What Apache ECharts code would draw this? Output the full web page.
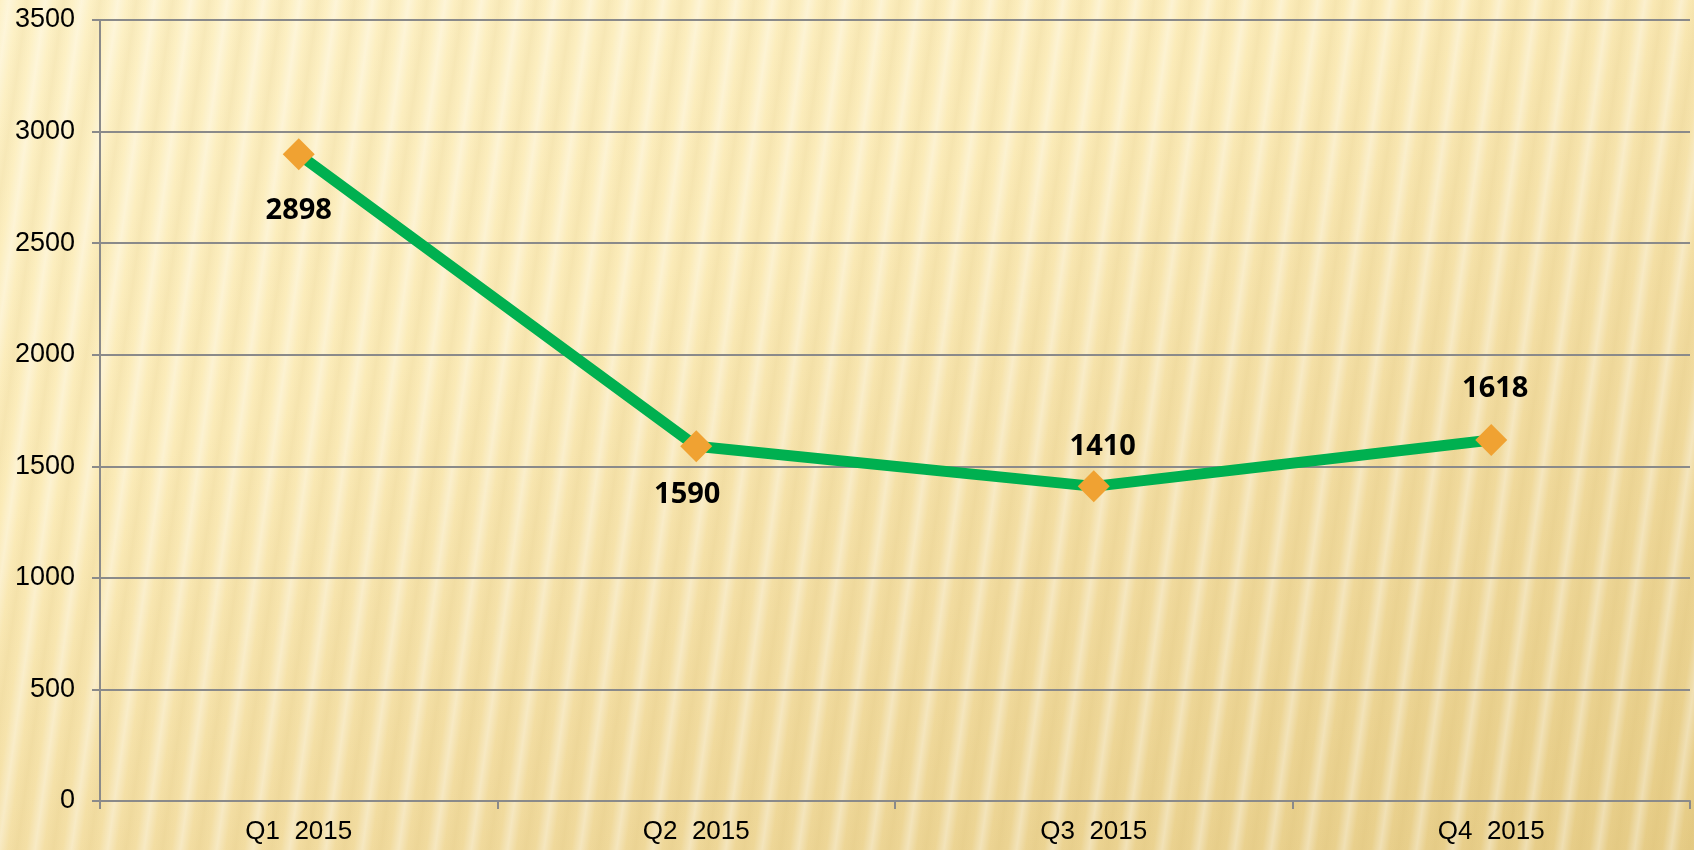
<!DOCTYPE html>
<html>
<head>
<meta charset="utf-8">
<title>Quarterly chart</title>
<script src="https://cdn.jsdelivr.net/npm/echarts@6/dist/echarts.min.js"></script>
<style>
  html, body {
    margin: 0;
    padding: 0;
  }
  body {
    width: 1694px;
    height: 850px;
    overflow: hidden;
    /* light gold backdrop with faint slanted stripes */
    background:
      repeating-linear-gradient(98deg, rgba(255,255,255,0) 0px, rgba(255,255,255,0.35) 9px, rgba(255,255,255,0) 18px, rgba(200,170,90,0.10) 27px, rgba(255,255,255,0) 36px),
      linear-gradient(160deg, #fdf1c6 0%, #fbebb8 35%, #f2dca0 65%, #e6cc86 100%);
  }
  #chart {
    width: 1694px;
    height: 850px;
  }
</style>
</head>
<body>
<div id="chart"></div>
<script>
  // data
  const quarters = ['Q1  2015', 'Q2  2015', 'Q3  2015', 'Q4  2015'];
  const values = [2898, 1590, 1410, 1618];

  // label placement (not data): side, gap, sideways nudge
  const labelPos = ['bottom', 'bottom', 'top', 'top'];
  const labelGap = [26, 18, 9, 21];
  const labelNudge = [0, -9, 9, 4];

  const chart = echarts.init(document.getElementById('chart'));

  const axisGray = '#8a8a8a';

  const option = {
    backgroundColor: 'transparent',
    animation: false,
    grid: {
      left: 100,
      right: 4,
      top: 20,
      bottom: 49,
      containLabel: false
    },
    xAxis: {
      type: 'category',
      data: quarters,
      boundaryGap: true,
      axisLine: { lineStyle: { color: axisGray, width: 2 } },
      axisTick: { show: true, length: 8, lineStyle: { color: axisGray, width: 2 } },
      axisLabel: {
        color: '#000',
        fontSize: 26,
        fontFamily: 'Liberation Sans',
        margin: 18
      },
      splitLine: { show: false }
    },
    yAxis: {
      type: 'value',
      min: 0,
      max: 3500,
      interval: 500,
      axisLine: { show: true, lineStyle: { color: axisGray, width: 2 } },
      axisTick: { show: true, length: 8, lineStyle: { color: axisGray, width: 2 } },
      axisLabel: {
        color: '#000',
        fontSize: 27,
        fontFamily: 'Liberation Sans',
        margin: 25,
        formatter: (v) => String(v)
      },
      splitLine: { show: true, lineStyle: { color: axisGray, width: 2 } }
    },
    series: [
      {
        type: 'line',
        data: values.map((v, i) => ({
          value: v,
          label: {
            position: labelPos[i],
            distance: labelGap[i],
            offset: [labelNudge[i], 0]
          }
        })),
        symbol: 'diamond',
        symbolSize: 32,
        showAllSymbol: true,
        lineStyle: { color: '#00b050', width: 11 },
        itemStyle: { color: '#f0a232', borderWidth: 0 },
        label: {
          show: true,
          color: '#000',
          fontSize: 29,
          fontWeight: 'bold',
          fontFamily: 'Open Sans'
        },
        z: 3
      }
    ]
  };

  chart.setOption(option);
</script>
</body>
</html>
